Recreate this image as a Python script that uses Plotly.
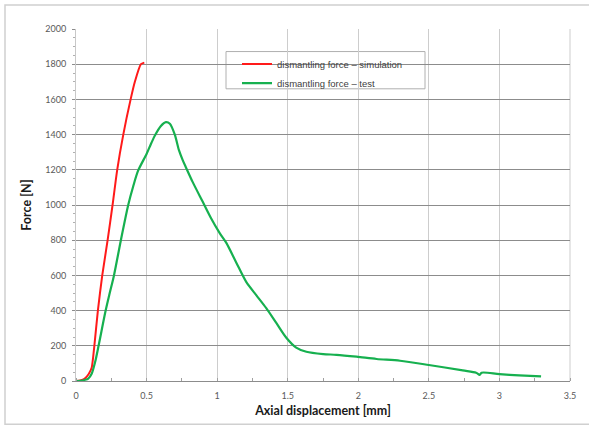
import plotly.graph_objects as go

# Simulation curve
sim_x = [0, 0.03, 0.06, 0.09, 0.111, 0.13, 0.155, 0.186, 0.224, 0.259, 0.292, 0.335, 0.387, 0.417, 0.46, 0.484]
sim_f = [0, 3, 12, 40, 75, 200, 400, 600, 800, 1000, 1200, 1400, 1600, 1700, 1800, 1809]

# Test curve
test_x = [0, 0.035, 0.06, 0.087, 0.111, 0.135, 0.16, 0.21, 0.236, 0.269, 0.318, 0.37, 0.405, 0.44, 0.5, 0.53, 0.559,
          0.6, 0.637, 0.665, 0.70, 0.73, 0.756, 0.78, 0.827, 0.898, 0.957, 1.017, 1.064, 1.135, 1.206,
          1.277, 1.348, 1.419, 1.49, 1.56, 1.632, 1.751, 1.845, 1.988, 2.13, 2.296, 2.5, 2.74, 2.835,
          2.86, 2.874, 3.0, 3.14, 3.295]
test_f = [0, 1, 6, 14, 41, 106, 200, 400, 490, 600, 800, 1000, 1105, 1195, 1290, 1345, 1395,
          1448, 1471, 1462, 1400, 1310, 1255, 1212, 1130, 1018, 925, 842, 786, 674, 563,
          488, 414, 330, 246, 190, 166, 153, 149, 138, 125, 115, 91, 60, 47,
          35, 47, 39, 32, 26]

series_names = ["dismantling force \u2013 simulation", "dismantling force \u2013 test"]
x_ticks = [0, 0.5, 1, 1.5, 2, 2.5, 3, 3.5]
x_tick_labels = ["0", "0.5", "1", "1.5", "2", "2.5", "3", "3.5"]
y_ticks = [0, 200, 400, 600, 800, 1000, 1200, 1400, 1600, 1800, 2000]

fig = go.Figure()
fig.add_trace(go.Scatter(x=sim_x, y=sim_f, mode="lines", name=series_names[0],
                         line=dict(color="#ff1a1a", width=2, shape="spline", smoothing=0.6)))
fig.add_trace(go.Scatter(x=test_x, y=test_f, mode="lines", name=series_names[1],
                         line=dict(color="#16b04f", width=2.2, shape="spline", smoothing=0.8)))

W, H = 589, 428
L, R, T, B = 76, 19, 29, 40
pw, ph = W - L - R, H - T - B

def px_x(p):
    return (p - L) / pw

def px_y(p):
    return (H - B - p) / ph

fig.update_layout(
    width=W, height=H,
    margin=dict(l=L, r=R, t=T, b=B),
    paper_bgcolor="white", plot_bgcolor="white",
    font=dict(family="Lato, Liberation Sans, sans-serif", color="#595959", size=9),
    showlegend=True,
    legend=dict(x=px_x(237), y=px_y(50), xanchor="left", yanchor="top",
                borderwidth=0, bgcolor="rgba(255,255,255,0)",
                font=dict(family="Liberation Sans, Arial, sans-serif", size=9.5, color="#404040"),
                tracegroupgap=0, itemwidth=30),
    xaxis=dict(range=[0, 3.5], tickvals=x_ticks, ticktext=x_tick_labels,
               showgrid=True, gridcolor="#cdcdcd", gridwidth=1,
               showline=True, linecolor="#8c8c8c", linewidth=1,
               ticks="", zeroline=False, ticklabelstandoff=6,
               minor=dict(dtick=0.25, tick0=0, ticks="inside", ticklen=3, tickcolor="#a0a0a0", showgrid=False),
               title=dict(text="<b>Axial displacement [mm]</b>", standoff=6,
                          font=dict(family="Lato, sans-serif", size=12.5, color="#1a1a1a"))),
    yaxis=dict(range=[0, 2000], tickvals=y_ticks,
               showgrid=True, gridcolor="#8c8c8c", gridwidth=1,
               showline=True, linecolor="#c8c8c8", linewidth=1,
               ticks="outside", ticklen=3, tickcolor="#8c8c8c", zeroline=False,
               ticklabelstandoff=4,
               minor=dict(dtick=50, tick0=0, ticks="outside", ticklen=2, tickcolor="#b0b0b0", showgrid=False),
               title=dict(text="<b>Force [N]</b>", standoff=10,
                          font=dict(family="Lato, sans-serif", size=12.5, color="#1a1a1a"))),
    shapes=[
        dict(type="rect", xref="paper", yref="paper",
             x0=px_x(5), x1=px_x(596), y0=px_y(432), y1=px_y(4.5),
             line=dict(color="#d0d0d0", width=1.5), fillcolor="rgba(0,0,0,0)", layer="below"),
        dict(type="line", xref="paper", yref="paper", x0=1, x1=1, y0=0, y1=1,
             line=dict(color="#cdcdcd", width=1), layer="below"),
        dict(type="rect", xref="paper", yref="paper",
             x0=px_x(226), x1=px_x(425), y0=px_y(90), y1=px_y(52),
             line=dict(color="#b0b0b0", width=1), fillcolor="white", layer="below"),
    ],
)

fig.write_html("out.html")
